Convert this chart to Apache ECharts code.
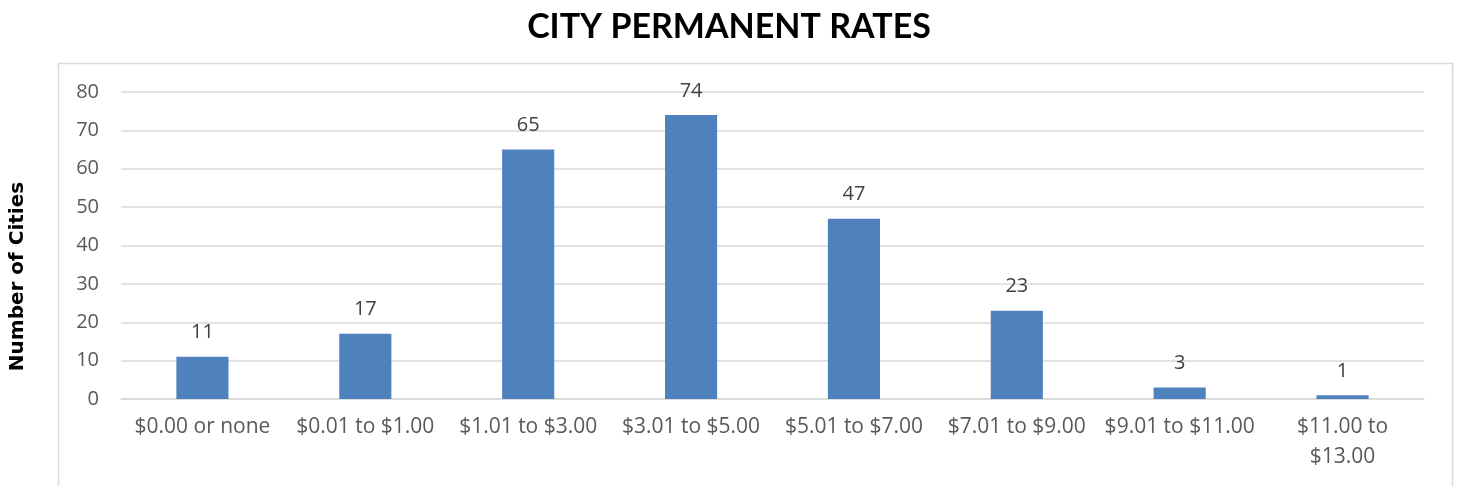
<!DOCTYPE html>
<html><head><meta charset="utf-8">
<script src="https://cdn.jsdelivr.net/npm/echarts@6/dist/echarts.min.js"></script>
<style>html,body{margin:0;padding:0;background:#fff}#c{width:1458px;height:486px}</style>
</head><body><div id="c"></div>
<script>
const categories = ["$0.00 or none","$0.01 to $1.00","$1.01 to $3.00","$3.01 to $5.00","$5.01 to $7.00","$7.01 to $9.00","$9.01 to $11.00","$11.00 to $13.00"];
const counts = [11,17,65,74,47,23,3,1];
const yTicks = [0,10,20,30,40,50,60,70,80];
const titleText = "CITY PERMANENT RATES";
const yAxisTitle = "Number of Cities";

const chart = echarts.init(document.getElementById('c'), null, {renderer:'canvas'});
chart.setOption({
  animation:false,
  backgroundColor:'#fff',
  title:{text:titleText,left:'center',top:5,textStyle:{fontFamily:'Lato, "DejaVu Sans", sans-serif',fontWeight:'bold',fontSize:34,color:'#000'}},
  graphic:[{type:'rect',shape:{x:58.5,y:63.5,width:1394,height:440},style:{fill:'none',stroke:'#d9d9d9',lineWidth:1.5},silent:true}],
  grid:{left:121,right:34,top:92,bottom:87},
  xAxis:{type:'category',data:categories,
    axisLine:{show:true,lineStyle:{color:'#d9d9d9',width:1.5}},axisTick:{show:false},
    axisLabel:{interval:0,margin:13,fontFamily:'"Open Sans", sans-serif',fontSize:21,color:'#595959',lineHeight:30,
      formatter:v=>v.length>15?v.replace(' to ',' to\n'):v}},
  yAxis:{type:'value',min:yTicks[0],max:yTicks[yTicks.length-1],interval:10,
    name:yAxisTitle,nameLocation:'middle',nameGap:93,nameRotate:90,
    nameTextStyle:{fontFamily:'"DejaVu Sans", sans-serif',fontWeight:'bold',fontSize:20,color:'#000',padding:[0,62,0,0]},
    axisLine:{show:false},axisTick:{show:false},
    axisLabel:{margin:22,fontFamily:'"Open Sans", sans-serif',fontSize:20,color:'#595959'},
    splitLine:{lineStyle:{color:'#d9d9d9',width:1.5}}},
  series:[{type:'bar',data:counts,barWidth:'32%',itemStyle:{color:'#4F81BD'},
    label:{show:true,position:'top',distance:14,fontFamily:'"Open Sans", sans-serif',fontSize:20,color:'#404040'}}]
});
</script></body></html>
